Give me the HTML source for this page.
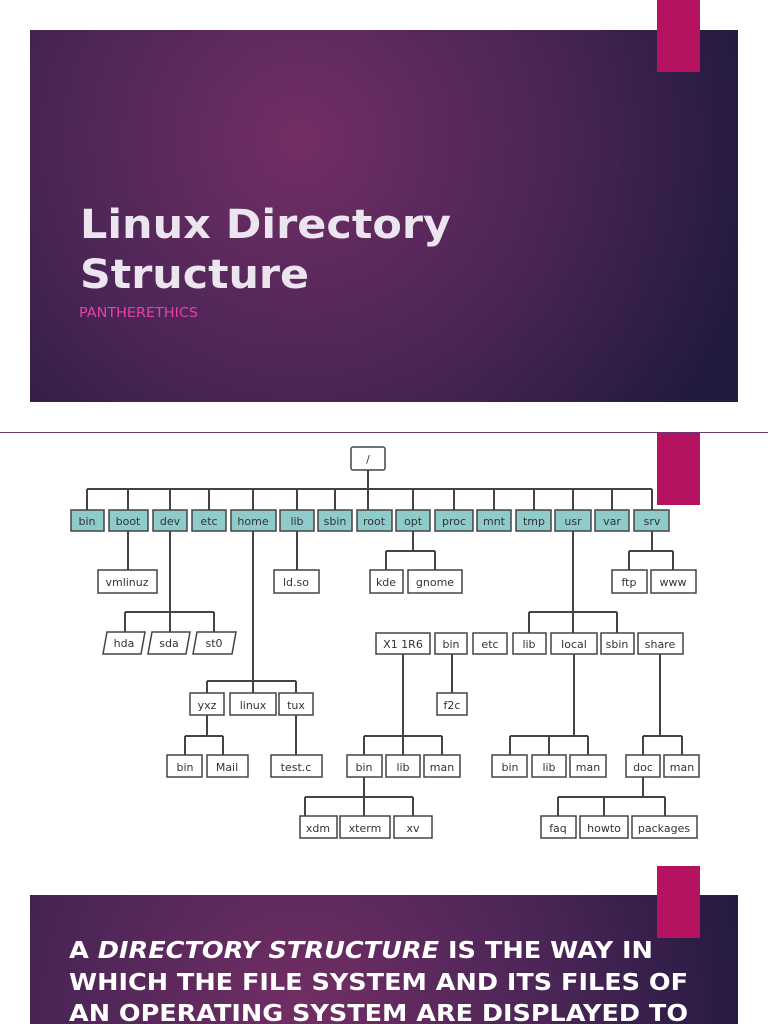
<!DOCTYPE html>
<html><head><meta charset="utf-8"><style>
html,body{margin:0;padding:0;background:#fff;width:768px;height:1024px;overflow:hidden}
svg{display:block}
</style></head><body>
<svg width="768" height="1024" viewBox="0 0 768 1024" xmlns="http://www.w3.org/2000/svg">
<defs>
<radialGradient id="g1" cx="300" cy="140" r="460" gradientUnits="userSpaceOnUse">
<stop offset="0" stop-color="#722e64"/><stop offset="0.55" stop-color="#4a2556"/><stop offset="1" stop-color="#231a40"/>
</radialGradient>
<radialGradient id="g2" cx="300" cy="1010" r="460" gradientUnits="userSpaceOnUse">
<stop offset="0" stop-color="#722e64"/><stop offset="0.55" stop-color="#4a2556"/><stop offset="1" stop-color="#231a40"/>
</radialGradient>
</defs>
<rect x="30" y="30" width="708" height="372" fill="url(#g1)"/>
<rect x="657" y="0" width="43" height="72" fill="#b5135f"/>
<g font-family="DejaVu Sans, sans-serif" font-weight="bold" fill="#ece4ee" font-size="40">
<text x="80" y="238" textLength="371" lengthAdjust="spacingAndGlyphs">Linux Directory</text>
<text x="80" y="288" textLength="229" lengthAdjust="spacingAndGlyphs">Structure</text>
</g>
<text x="79" y="317" font-family="DejaVu Sans, sans-serif" font-size="13" fill="#e542a6" textLength="119" lengthAdjust="spacingAndGlyphs">PANTHERETHICS</text>

<line x1="0" y1="432.5" x2="768" y2="432.5" stroke="#6a3a70" stroke-width="1"/>
<rect x="657" y="433" width="43" height="72" fill="#b5135f"/>

<g stroke="#444" stroke-width="2" fill="none">
<!-- root -->
<line x1="368" y1="470" x2="368" y2="510"/>
<line x1="87" y1="489" x2="652" y2="489"/>
<line x1="87" y1="489" x2="87" y2="510"/><line x1="128" y1="489" x2="128" y2="510"/><line x1="170" y1="489" x2="170" y2="510"/><line x1="209" y1="489" x2="209" y2="510"/><line x1="253" y1="489" x2="253" y2="510"/><line x1="297" y1="489" x2="297" y2="510"/><line x1="335" y1="489" x2="335" y2="510"/><line x1="413" y1="489" x2="413" y2="510"/><line x1="454" y1="489" x2="454" y2="510"/><line x1="494" y1="489" x2="494" y2="510"/><line x1="534" y1="489" x2="534" y2="510"/><line x1="573" y1="489" x2="573" y2="510"/><line x1="612" y1="489" x2="612" y2="510"/><line x1="652" y1="489" x2="652" y2="510"/>
<!-- boot -->
<line x1="128" y1="531" x2="128" y2="570"/>
<!-- lib -->
<line x1="297" y1="531" x2="297" y2="570"/>
<!-- opt -->
<line x1="413" y1="531" x2="413" y2="551"/><line x1="386" y1="551" x2="435" y2="551"/><line x1="386" y1="551" x2="386" y2="570"/><line x1="435" y1="551" x2="435" y2="570"/>
<!-- srv -->
<line x1="652" y1="531" x2="652" y2="551"/><line x1="629" y1="551" x2="673" y2="551"/><line x1="629" y1="551" x2="629" y2="570"/><line x1="673" y1="551" x2="673" y2="570"/>
<!-- dev -->
<line x1="170" y1="531" x2="170" y2="632"/><line x1="125" y1="612" x2="214" y2="612"/><line x1="125" y1="612" x2="125" y2="632"/><line x1="214" y1="612" x2="214" y2="632"/>
<!-- home -->
<line x1="253" y1="531" x2="253" y2="693"/><line x1="207" y1="681" x2="296" y2="681"/><line x1="207" y1="681" x2="207" y2="693"/><line x1="296" y1="681" x2="296" y2="693"/>
<!-- usr -->
<line x1="573" y1="531" x2="573" y2="633"/><line x1="529" y1="612" x2="617" y2="612"/><line x1="529" y1="612" x2="529" y2="633"/><line x1="617" y1="612" x2="617" y2="633"/>
<!-- X1 -->
<line x1="403" y1="654" x2="403" y2="755"/><line x1="364" y1="736" x2="442" y2="736"/><line x1="364" y1="736" x2="364" y2="755"/><line x1="442" y1="736" x2="442" y2="755"/>
<!-- bin f2c -->
<line x1="452" y1="654" x2="452" y2="693"/>
<!-- local -->
<line x1="574" y1="654" x2="574" y2="736"/><line x1="510" y1="736" x2="588" y2="736"/><line x1="510" y1="736" x2="510" y2="755"/><line x1="549" y1="736" x2="549" y2="755"/><line x1="588" y1="736" x2="588" y2="755"/>
<!-- share -->
<line x1="660" y1="654" x2="660" y2="736"/><line x1="643" y1="736" x2="682" y2="736"/><line x1="643" y1="736" x2="643" y2="755"/><line x1="682" y1="736" x2="682" y2="755"/>
<!-- yxz -->
<line x1="207" y1="715" x2="207" y2="736"/><line x1="185" y1="736" x2="223" y2="736"/><line x1="185" y1="736" x2="185" y2="755"/><line x1="223" y1="736" x2="223" y2="755"/>
<!-- tux -->
<line x1="296" y1="715" x2="296" y2="755"/>
<!-- bin -> xdm -->
<line x1="364" y1="777" x2="364" y2="816"/><line x1="305" y1="797" x2="413" y2="797"/><line x1="305" y1="797" x2="305" y2="816"/><line x1="413" y1="797" x2="413" y2="816"/>
<!-- doc -->
<line x1="643" y1="777" x2="643" y2="797"/><line x1="558" y1="797" x2="665" y2="797"/><line x1="558" y1="797" x2="558" y2="816"/><line x1="604" y1="797" x2="604" y2="816"/><line x1="665" y1="797" x2="665" y2="816"/>
</g>

<g stroke="#444" stroke-width="1.5">
<g fill="#fff">
<rect x="351" y="447" width="34" height="23" rx="2"/>
<rect x="98" y="570" width="59" height="23"/><rect x="274" y="570" width="45" height="23"/><rect x="370" y="570" width="33" height="23"/><rect x="408" y="570" width="54" height="23"/><rect x="612" y="570" width="35" height="23"/><rect x="651" y="570" width="45" height="23"/>
<polygon points="107,632 145,632 141,654 103,654"/><polygon points="152,632 190,632 186,654 148,654"/><polygon points="197,632 236,632 232,654 193,654"/>
<rect x="376" y="633" width="54" height="21"/><rect x="435" y="633" width="32" height="21"/><rect x="473" y="633" width="34" height="21"/><rect x="513" y="633" width="33" height="21"/><rect x="551" y="633" width="46" height="21"/><rect x="601" y="633" width="33" height="21"/><rect x="638" y="633" width="45" height="21"/>
<rect x="190" y="693" width="34" height="22"/><rect x="230" y="693" width="46" height="22"/><rect x="279" y="693" width="34" height="22"/><rect x="437" y="693" width="30" height="22"/>
<rect x="167" y="755" width="35" height="22"/><rect x="207" y="755" width="41" height="22"/><rect x="271" y="755" width="51" height="22"/><rect x="347" y="755" width="35" height="22"/><rect x="386" y="755" width="34" height="22"/><rect x="424" y="755" width="36" height="22"/><rect x="492" y="755" width="35" height="22"/><rect x="532" y="755" width="34" height="22"/><rect x="570" y="755" width="36" height="22"/><rect x="626" y="755" width="34" height="22"/><rect x="664" y="755" width="35" height="22"/>
<rect x="300" y="816" width="37" height="22"/><rect x="340" y="816" width="50" height="22"/><rect x="394" y="816" width="38" height="22"/><rect x="541" y="816" width="35" height="22"/><rect x="580" y="816" width="48" height="22"/><rect x="632" y="816" width="65" height="22"/>
</g>
<g fill="#8ecbc9">
<rect x="71" y="510" width="33" height="21"/><rect x="109" y="510" width="39" height="21"/><rect x="153" y="510" width="34" height="21"/><rect x="192" y="510" width="34" height="21"/><rect x="231" y="510" width="45" height="21"/><rect x="280" y="510" width="34" height="21"/><rect x="318" y="510" width="34" height="21"/><rect x="357" y="510" width="35" height="21"/><rect x="396" y="510" width="34" height="21"/><rect x="435" y="510" width="38" height="21"/><rect x="477" y="510" width="34" height="21"/><rect x="516" y="510" width="35" height="21"/><rect x="555" y="510" width="36" height="21"/><rect x="595" y="510" width="34" height="21"/><rect x="634" y="510" width="35" height="21"/>
</g>
</g>

<g font-family="DejaVu Sans, sans-serif" font-size="11" fill="#333" text-anchor="middle">
<text x="368" y="463">/</text>
<text x="87" y="525">bin</text><text x="128" y="525">boot</text><text x="170" y="525">dev</text><text x="209" y="525">etc</text><text x="253" y="525">home</text><text x="297" y="525">lib</text><text x="335" y="525">sbin</text><text x="374" y="525">root</text><text x="413" y="525">opt</text><text x="454" y="525">proc</text><text x="494" y="525">mnt</text><text x="534" y="525">tmp</text><text x="573" y="525">usr</text><text x="612" y="525">var</text><text x="652" y="525">srv</text>
<text x="127" y="586">vmlinuz</text><text x="296" y="586">ld.so</text><text x="386" y="586">kde</text><text x="435" y="586">gnome</text><text x="629" y="586">ftp</text><text x="673" y="586">www</text>
<text x="124" y="647">hda</text><text x="169" y="647">sda</text><text x="214" y="647">st0</text>
<text x="403" y="648">X1 1R6</text><text x="451" y="648">bin</text><text x="490" y="648">etc</text><text x="529" y="648">lib</text><text x="574" y="648">local</text><text x="617" y="648">sbin</text><text x="660" y="648">share</text>
<text x="207" y="709">yxz</text><text x="253" y="709">linux</text><text x="296" y="709">tux</text><text x="452" y="709">f2c</text>
<text x="185" y="771">bin</text><text x="227" y="771">Mail</text><text x="296" y="771">test.c</text><text x="364" y="771">bin</text><text x="403" y="771">lib</text><text x="442" y="771">man</text><text x="510" y="771">bin</text><text x="549" y="771">lib</text><text x="588" y="771">man</text><text x="643" y="771">doc</text><text x="682" y="771">man</text>
<text x="318" y="832">xdm</text><text x="365" y="832">xterm</text><text x="413" y="832">xv</text><text x="558" y="832">faq</text><text x="604" y="832">howto</text><text x="664" y="832">packages</text>
</g>

<rect x="30" y="895" width="708" height="129" fill="url(#g2)"/>
<rect x="657" y="866" width="43" height="72" fill="#b5135f"/>
<g font-family="DejaVu Sans, sans-serif" font-weight="bold" font-size="23" fill="#fff">
<text x="69" y="958" textLength="584" lengthAdjust="spacingAndGlyphs">A <tspan font-style="italic">DIRECTORY STRUCTURE</tspan> IS THE WAY IN</text>
<text x="69" y="990" textLength="619" lengthAdjust="spacingAndGlyphs">WHICH THE FILE SYSTEM AND ITS FILES OF</text>
<text x="69" y="1021" textLength="619" lengthAdjust="spacingAndGlyphs">AN OPERATING SYSTEM ARE DISPLAYED TO</text>
</g>
</svg>
</body></html>
